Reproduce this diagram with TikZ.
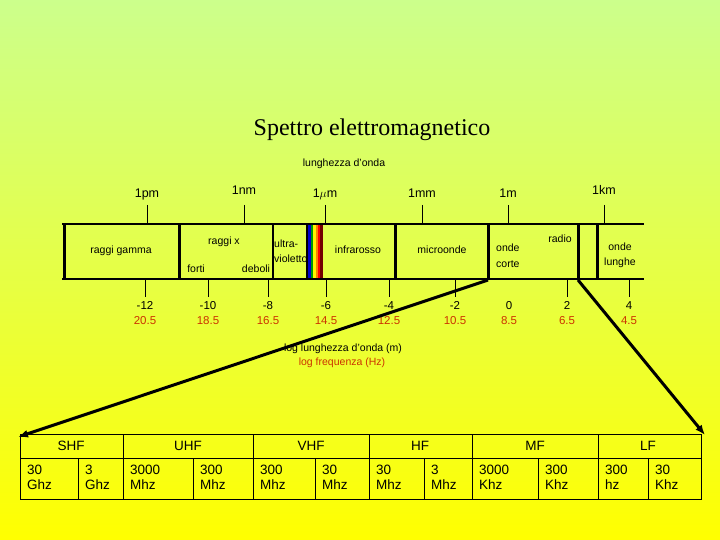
\documentclass[tikz,border=0pt]{standalone}
\usepackage{fontspec}
\setmainfont{Liberation Sans}
\newfontfamily\titlefont{Liberation Serif}
\usetikzlibrary{arrows.meta}
\definecolor{redlab}{RGB}{204,51,0}
\definecolor{bgtop}{RGB}{204,255,140}
\definecolor{bgbot}{RGB}{255,255,0}
\tikzset{
  bandline/.style={line width=2.5pt},
  divider/.style={line width=3pt},
  tickline/.style={line width=0.8pt},
  lab/.style={font=\fontsize{10.5}{14}\selectfont,inner sep=0pt,anchor=base},
  unitlab/.style={font=\fontsize{12.5}{13}\selectfont,inner sep=0pt,anchor=base},
  loglab/.style={font=\fontsize{11.5}{12}\selectfont,inner sep=0pt,anchor=base},
  freqlab/.style={loglab,text=redlab},
  zoomarrow/.style={-{Latex[length=10pt,width=8pt]},line width=3pt},
  gridline/.style={line width=0.8pt},
  bandname/.style={font=\fontsize{13.5}{14}\selectfont,inner sep=0pt},
  cell/.style={font=\fontsize{13.5}{15}\selectfont,align=left,anchor=north west,inner sep=0pt}
}

\begin{document}
\begin{tikzpicture}[x=1pt,y=-1pt]
  \useasboundingbox (0,0) rectangle (720,540);
  \shade[top color=bgtop,bottom color=bgbot] (0,0) rectangle (720,540);
  \node[font=\titlefont\fontsize{24}{26}\selectfont,inner sep=0pt] (title) at (372,130) {Spettro elettromagnetico};
  \node[lab] (lungh) at (344,167) {lunghezza d'onda};
  % band
  \draw[bandline] (62,224) -- (644,224);
  \draw[bandline] (62,279) -- (644,279);
  \foreach \x in {64,179,395,488,578,597} \draw[divider] (\x,224) -- (\x,279);
  \draw[line width=2pt] (273,224) -- (273,279);
  \foreach \c [count=\i from 0] in {black,blue!80!black,green!60!black,yellow,orange,red,red!45!black}
    \fill[\c] ({306+\i*2.4},225.5) rectangle ({306+(\i+1)*2.4},277.5);
  % wavelength marks
  \foreach \x/\y/\t [count=\i] in {147/198/1pm,244/195/1nm,325/198/1$\mu$m,422/198/1mm,508/198/1m,604/195/1km}{
    \draw[tickline] (\x,205) -- (\x,224);
    \node[unitlab] (u\i) at (\x,\y) {\t};
  }
  \node[lab] (gamma) at (121,253) {raggi gamma};
  \node[lab] (rx) at (224,244) {raggi x};
  \node[lab] (forti) at (196,272) {forti};
  \node[lab] (deboli) at (256,272) {deboli};
  \node[lab,align=left,anchor=base west,font=\fontsize{10.5}{15}\selectfont] (uv) at (274,262) {ultra-\\violetto};
  \node[lab] (ir) at (358,253) {infrarosso};
  \node[lab] (micro) at (442,253) {microonde};
  \node[lab,align=left,anchor=base west,font=\fontsize{10.5}{16}\selectfont] (corte) at (496,267) {onde\\corte};
  \node[lab] (radio) at (560,243) {radio};
  \node[lab,align=center,font=\fontsize{10.5}{15}\selectfont] (lunghe) at (620,265) {onde\\lunghe};
  % log scales
  \foreach \x/\a/\b [count=\i] in {145/-12/20.5,208/-10/18.5,268/-8/16.5,326/-6/14.5,389/-4/12.5,455/-2/10.5,567/2/6.5,629/4/4.5}{
    \draw[tickline] (\x,279) -- (\x,297);
    \node[loglab] (l\i) at (\x,309) {\a};
    \node[freqlab] (f\i) at (\x,324) {\b};
  }
  \node[loglab] (l0) at (509,309) {0};
  \node[freqlab] (f0) at (509,324) {8.5};
  \node[lab] (loglam) at (343,351) {log lunghezza d'onda (m)};
  \node[lab,text=redlab] (logfreq) at (342,365) {log frequenza (Hz)};
  % table
  \coordinate (radiostart) at (488,280);
  \coordinate (radioend) at (578,280);
  \coordinate (tabnw) at (20,434);
  \coordinate (tabne) at (701,434);
  \draw[gridline] (tabnw) rectangle (701,499);
  \draw[gridline] (20,458) -- (701,458);
  \foreach \x in {123,253,369,472,598} \draw[gridline] (\x,434) -- (\x,499);
  \foreach \x in {78,193,315,424,538,648} \draw[gridline] (\x,458) -- (\x,499);
  \foreach \x/\t in {71/SHF,188/UHF,311/VHF,420/HF,535/MF,648/LF}
    \node[bandname] (b\t) at (\x,446) {\t};
  \foreach \x/\t [count=\i] in {20/30\\Ghz,78/3\\Ghz,123/3000\\Mhz,193/300\\Mhz,253/300\\Mhz,315/30\\Mhz,369/30\\Mhz,424/3\\Mhz,472/3000\\Khz,538/300\\Khz,598/300\\hz,648/30\\Khz}
    \node[cell] (c\i) at (\x+7,465) {\t};
  \draw[zoomarrow] (radiostart) -- ([shift={(-2,3)}]tabnw);
  \draw[zoomarrow] (radioend) -- ([shift={(4,1)}]tabne);
\end{tikzpicture}
\end{document}
